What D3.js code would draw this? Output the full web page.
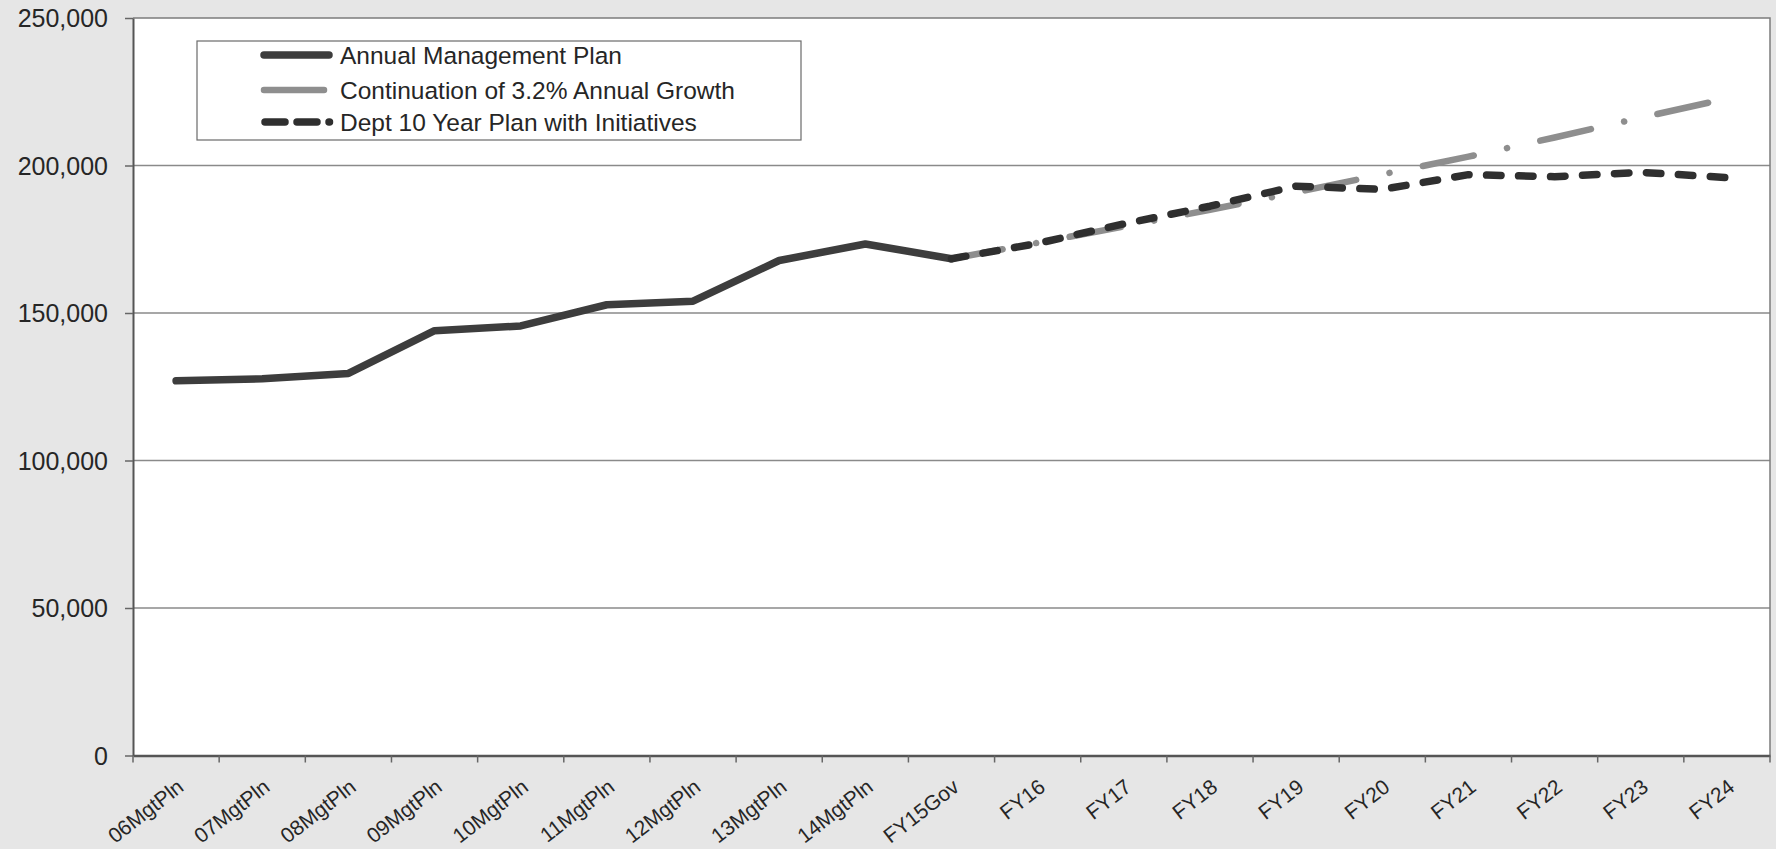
<!DOCTYPE html>
<html>
<head>
<meta charset="utf-8">
<script src="https://cdn.jsdelivr.net/npm/d3@7/dist/d3.min.js"></script>
<style>
  html, body { margin: 0; padding: 0; background: #e6e6e6; }
  svg { display: block; }
  text { font-family: "Liberation Sans", Arial, sans-serif; fill: #262626; }
</style>
</head>
<body>
<svg id="chart" width="1776" height="849"></svg>
<script>
// Fiscal-year categories along the x axis
const categories = [
  "06MgtPln", "07MgtPln", "08MgtPln", "09MgtPln", "10MgtPln", "11MgtPln",
  "12MgtPln", "13MgtPln", "14MgtPln", "FY15Gov", "FY16", "FY17", "FY18",
  "FY19", "FY20", "FY21", "FY22", "FY23", "FY24"
];

// Annual Management Plan (actual plan history)
const annualPlan = [
  127000, 127700, 129500, 144000, 145600, 152800, 154000, 167800, 173400, 168400,
  null, null, null, null, null, null, null, null, null
];

// Continuation of 3.2% annual growth from FY15Gov
const growthPlan = [
  null, null, null, null, null, null, null, null, null, 168400,
  173800, 179300, 185000, 190900, 197000, 203000, 209500, 216200, 222700
];

// Department 10-year plan with initiatives
const deptPlan = [
  null, null, null, null, null, null, null, null, null, 168400,
  173600, 180200, 186200, 193000, 191900, 196900, 196200, 197700, 195900
];

const yTicks = [0, 50000, 100000, 150000, 200000, 250000];

const seriesNames = [
  "Annual Management Plan",
  "Continuation of 3.2% Annual Growth",
  "Dept 10 Year Plan with Initiatives"
];

const svg = d3.select("#chart");
const plot = { left: 133, right: 1770, top: 18, bottom: 755.5 };

const x = d3.scaleBand().domain(categories).range([plot.left, plot.right]).paddingInner(0).paddingOuter(0);
const y = d3.scaleLinear().domain([0, 250000]).range([plot.bottom, plot.top]);
const cx = c => x(c) + x.bandwidth() / 2;

// plot background
svg.append("rect")
  .attr("x", plot.left).attr("y", plot.top)
  .attr("width", plot.right - plot.left).attr("height", plot.bottom - plot.top)
  .attr("fill", "#ffffff");

// horizontal gridlines
svg.append("g").selectAll("line")
  .data(yTicks.filter(v => v > 0 && v < 250000))
  .join("line")
  .attr("x1", plot.left).attr("x2", plot.right)
  .attr("y1", d => y(d)).attr("y2", d => y(d))
  .attr("stroke", "#8a8a8a").attr("stroke-width", 1.5);

// plot border (top and right)
svg.append("path")
  .attr("d", `M${plot.left},${plot.top}H${plot.right}V${plot.bottom}`)
  .attr("fill", "none").attr("stroke", "#7c7c7c").attr("stroke-width", 1.5);

// y axis
const yAxis = d3.axisLeft(y).tickValues(yTicks).tickSize(8).tickSizeOuter(0)
  .tickFormat(d3.format(","));
const yg = svg.append("g").attr("transform", `translate(${plot.left},0)`).call(yAxis);
yg.select(".domain").attr("stroke", "#555").attr("stroke-width", 2);
yg.selectAll(".tick line").attr("stroke", "#666").attr("stroke-width", 1.5);
yg.selectAll(".tick text")
  .attr("x", -25).attr("dy", "0.35em")
  .style("font-size", "25px").style("font-family", "'Liberation Sans', Arial, sans-serif")
  .attr("fill", "#262626");

// x axis: labels centered on categories, ticks on category boundaries
const xAxis = d3.axisBottom(x).tickSize(0).tickSizeOuter(0);
const xg = svg.append("g").attr("transform", `translate(0,${plot.bottom})`).call(xAxis);
xg.select(".domain").attr("stroke", "#555").attr("stroke-width", 2.5);
xg.selectAll(".tick text")
  .attr("text-anchor", "end")
  .attr("y", 0).attr("dy", 0)
  .attr("transform", "translate(9,34) rotate(-38)")
  .style("font-size", "21px").style("font-family", "'Liberation Sans', Arial, sans-serif")
  .attr("fill", "#2c2c2c");

const boundaries = categories.map(c => x(c)).concat([plot.right]);
svg.append("g").selectAll("line")
  .data(boundaries)
  .join("line")
  .attr("x1", d => d).attr("x2", d => d)
  .attr("y1", plot.bottom).attr("y2", plot.bottom + 7)
  .attr("stroke", "#666").attr("stroke-width", 1.5);

// series lines
const line = d3.line()
  .defined(d => d.v != null)
  .x(d => cx(d.c))
  .y(d => y(d.v));

const toPoints = arr => categories.map((c, i) => ({ c, v: arr[i] }));

const styles = [
  { data: annualPlan, color: "#3d3d3d", width: 7.5, dash: null },
  { data: growthPlan, color: "#8e8e8e", width: 6.5, dash: "52,34,0.1,34" },
  { data: deptPlan,   color: "#2f2f2f", width: 7.5, dash: "14.5,17.5" }
];

svg.append("g").selectAll("path")
  .data(styles)
  .join("path")
  .attr("d", s => line(toPoints(s.data)))
  .attr("fill", "none")
  .attr("stroke", s => s.color)
  .attr("stroke-width", s => s.width)
  .attr("stroke-linecap", "round")
  .attr("stroke-linejoin", "round")
  .attr("stroke-dasharray", s => s.dash);

// legend
const legend = svg.append("g");
legend.append("rect")
  .attr("x", 197).attr("y", 41).attr("width", 604).attr("height", 99)
  .attr("fill", "#ffffff").attr("stroke", "#6a6a6a").attr("stroke-width", 1.2);

const rowsY = [55, 90, 122];
const legendSamples = [
  { x1: 264, x2: 329, color: "#3d3d3d", width: 7.5, dash: null },
  { x1: 264, x2: 324, color: "#8e8e8e", width: 6.5, dash: null },
  { x1: 265, x2: 329.5, color: "#2f2f2f", width: 7.5, dash: "20,12" }
];

legendSamples.forEach((s, i) => {
  legend.append("line")
    .attr("x1", s.x1).attr("x2", s.x2)
    .attr("y1", rowsY[i]).attr("y2", rowsY[i])
    .attr("stroke", s.color).attr("stroke-width", s.width)
    .attr("stroke-linecap", "round")
    .attr("stroke-dasharray", s.dash);
  legend.append("text")
    .attr("x", 340).attr("y", rowsY[i]).attr("dy", "0.35em")
    .style("font-size", "24.5px")
    .text(seriesNames[i]);
});
</script>
</body>
</html>
